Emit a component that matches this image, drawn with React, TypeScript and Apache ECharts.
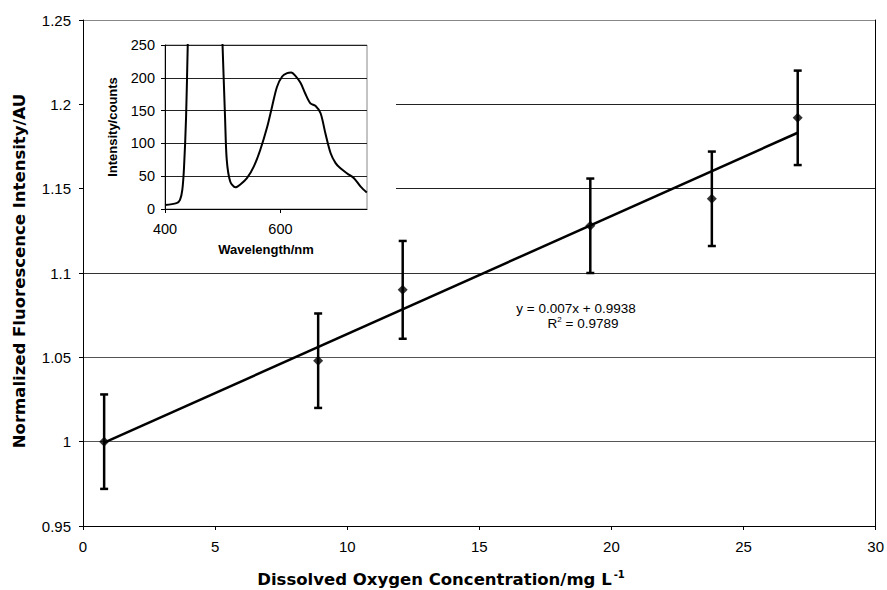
import React, { useEffect, useRef } from "react";
import * as echarts from "echarts";

// Main calibration data
const oxygenConc = [0.8, 8.9, 12.1, 19.2, 23.8, 27.05];
const normIntensity = [1.0, 1.048, 1.09, 1.128, 1.144, 1.192];
const intensityErr = [0.028, 0.028, 0.029, 0.028, 0.028, 0.028];
// Linear trend line (from displayed equation)
const trendSlope = 0.007;
const trendIntercept = 0.9938;
const trendRangeX = [0.8, 27.05];
const equationText = "y = 0.007x + 0.9938";
const r2Label = "R";
const r2Value = " = 0.9789";
const xTitle = "Dissolved Oxygen Concentration/mg L";
const xTitleSup = "-1";
const yTitle = "Normalized Fluorescence Intensity/AU";

// Inset spectrum
const wavelength = [400, 420, 426, 430, 433, 436.5, 439.4, 443, 470, 497, 499.7, 504, 507, 513, 522, 530, 542, 554, 565, 577, 585.5, 594, 603, 611.6, 618.6, 626, 635, 643, 652, 661, 669.6, 678, 687, 695.6, 704, 716, 727.5, 739, 749.6];
const spectrumCounts = [6, 9, 14, 29, 64, 140, 250, 400, 900, 320, 250, 141, 75, 42, 33, 37, 47, 65, 90, 125, 156, 186, 202, 207, 208, 203, 192, 176, 161, 157, 146, 115, 85, 70, 62, 54, 47, 34, 25];

const FONT = "'Liberation Sans', Arial, sans-serif";
const TFONT = "'DejaVu Sans', 'Liberation Sans', sans-serif";

export default function App() {
  const ref = useRef<HTMLDivElement>(null);
  useEffect(() => {
    if (!ref.current) return;
    const chart = echarts.init(ref.current, undefined, { renderer: "svg" });
    const scatterData = oxygenConc.map((x, i) => [x, normIntensity[i]]);
    const errData = oxygenConc.map((x, i) => [x, normIntensity[i] - intensityErr[i], normIntensity[i] + intensityErr[i]]);
    const trendData = trendRangeX.map((x) => [x, trendSlope * x + trendIntercept]);
    const spectrum = wavelength.map((w, i) => [w, spectrumCounts[i]]);

    chart.setOption({
      animation: false,
      textStyle: { fontFamily: FONT },
      grid: [
        { left: 83, right: 10, top: 20, bottom: 64, show: false },
        { left: 165, top: 45, width: 202, height: 164, show: true, borderColor: "#888", borderWidth: 1, z: 3 },
      ],
      xAxis: [
        {
          gridIndex: 0, type: "value", min: 0, max: 30, interval: 5,
          axisLine: { lineStyle: { color: "#000", width: 1 } },
          axisTick: { show: true, length: 4, lineStyle: { color: "#000" } },
          axisLabel: { color: "#000", fontSize: 15, margin: 13, fontFamily: FONT },
          splitLine: { show: false },
        },
        {
          gridIndex: 1, type: "value", min: 400, max: 750, interval: 200, z: 4,
          axisLine: { lineStyle: { color: "#000", width: 1 } },
          axisTick: { show: true, length: 4, lineStyle: { color: "#000" } },
          axisLabel: { color: "#000", fontSize: 14.5, margin: 12, showMaxLabel: false, fontFamily: FONT },
          splitLine: { show: false },
          name: "Wavelength/nm", nameLocation: "middle", nameGap: 34,
          nameTextStyle: { fontSize: 13, fontWeight: "bold", color: "#000", fontFamily: FONT },
        },
      ],
      yAxis: [
        {
          gridIndex: 0, type: "value", min: 0.95, max: 1.25, interval: 0.05,
          axisLine: { show: true, lineStyle: { color: "#000", width: 1 } },
          axisTick: { show: true, length: 4, lineStyle: { color: "#000" } },
          axisLabel: { color: "#000", fontSize: 15, margin: 12, fontFamily: FONT, formatter: (v: number) => String(+v.toFixed(2)) },
          splitLine: { show: true, lineStyle: { color: ["#444", "#555", "#555", "#333", "#222", "#222", "#888"], width: 1 } },
        },
        {
          gridIndex: 1, type: "value", min: 0, max: 250, interval: 50, z: 4,
          axisLine: { show: true, lineStyle: { color: "#000", width: 1 } },
          axisTick: { show: true, length: 4, lineStyle: { color: "#000" } },
          axisLabel: { color: "#000", fontSize: 14.5, margin: 10, fontFamily: FONT },
          splitLine: { show: true, lineStyle: { color: "#222", width: 1 } },
          name: "Intensity/counts", nameLocation: "middle", nameGap: 46,
          nameTextStyle: { fontSize: 13, fontWeight: "bold", color: "#000", fontFamily: FONT },
        },
        {
          gridIndex: 0, type: "value", position: "right", min: 0.95, max: 1.25, interval: 0.05,
          axisLine: { show: true, lineStyle: { color: "#000", width: 1 } },
          axisTick: { show: false }, axisLabel: { show: false }, splitLine: { show: false },
        },
      ],
      graphic: [
        { type: "rect", z: 1, shape: { x: 84, y: 21, width: 312, height: 248 }, style: { fill: "#fff" } },
        { type: "text", z: 10, x: 576, y: 308, style: { text: equationText, fontSize: 13.5, fill: "#000", align: "center", verticalAlign: "middle", fontFamily: FONT } },
        {
          type: "text", z: 10, x: 583, y: 323,
          style: {
            text: "{a|" + r2Label + "}{s|2}{a|" + r2Value + "}",
            align: "center", verticalAlign: "middle",
            rich: {
              a: { fontSize: 13.5, fill: "#000", fontFamily: FONT },
              s: { fontSize: 8, fill: "#000", fontFamily: FONT, verticalAlign: "top", padding: [0, 0, 7, 0] },
            },
          },
        },
        {
          type: "text", z: 10, x: 441, y: 579,
          style: {
            text: "{a|" + xTitle + "}{s|" + xTitleSup + "}",
            align: "center", verticalAlign: "middle",
            rich: {
              a: { fontSize: 16.5, fontWeight: "bold", fill: "#000", fontFamily: TFONT },
              s: { fontSize: 10, fontWeight: "bold", fill: "#000", fontFamily: TFONT, verticalAlign: "top", padding: [0, 0, 9, 2] },
            },
          },
        },
        {
          type: "text", z: 10, x: 19, y: 271, rotation: Math.PI / 2,
          style: { text: yTitle, fontSize: 16.5, fontWeight: "bold", fill: "#000", fontFamily: TFONT, align: "center", verticalAlign: "middle" },
        },
      ],
      series: [
        {
          type: "line", xAxisIndex: 0, yAxisIndex: 0, data: trendData, showSymbol: false, z: 5,
          lineStyle: { color: "#000", width: 2.5 },
        },
        {
          type: "custom", xAxisIndex: 0, yAxisIndex: 0, data: errData, z: 6,
          renderItem: (params: any, api: any) => {
            const x = api.value(0);
            const lo = api.coord([x, api.value(1)]);
            const hi = api.coord([x, api.value(2)]);
            const cw = 4;
            const st = { stroke: "#000", lineWidth: 2.5 };
            return {
              type: "group",
              children: [
                { type: "line", shape: { x1: lo[0], y1: lo[1], x2: hi[0], y2: hi[1] }, style: st },
                { type: "line", shape: { x1: lo[0] - cw, y1: lo[1], x2: lo[0] + cw, y2: lo[1] }, style: st },
                { type: "line", shape: { x1: hi[0] - cw, y1: hi[1], x2: hi[0] + cw, y2: hi[1] }, style: st },
              ],
            };
          },
        },
        {
          type: "scatter", xAxisIndex: 0, yAxisIndex: 0, data: scatterData, symbol: "diamond", symbolSize: 10, z: 7,
          itemStyle: { color: "#000" },
        },
        {
          type: "line", xAxisIndex: 1, yAxisIndex: 1, data: spectrum, showSymbol: false, smooth: 0.3, clip: true, z: 8,
          lineStyle: { color: "#000", width: 2 },
        },
      ],
    });
    return () => chart.dispose();
  }, []);
  return <div ref={ref} style={{ position: "fixed", left: 0, top: 0, width: 887, height: 590, background: "#fff" }} />;
}
